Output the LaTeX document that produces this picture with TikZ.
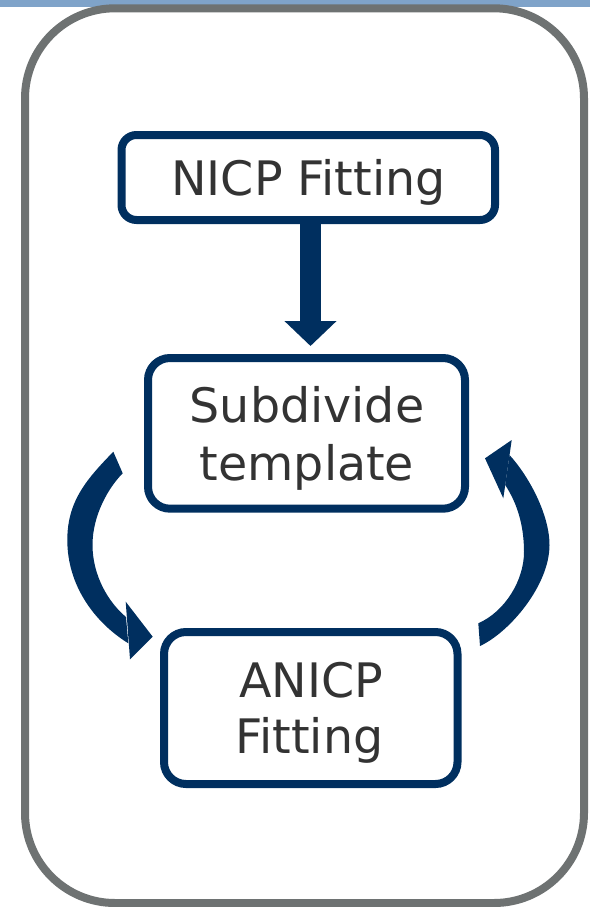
\documentclass[tikz,border=0pt]{standalone}
\usepackage{fontspec}
\setmainfont{DejaVu Sans}
\usetikzlibrary{arrows.meta,calc}
\definecolor{navy}{RGB}{0,47,95}
\definecolor{framegray}{RGB}{110,114,114}
\definecolor{bandblue}{RGB}{127,163,201}
\definecolor{labelgray}{RGB}{51,51,51}
\begin{document}
\begin{tikzpicture}[x=1pt,y=-1pt,
  stepbox/.style={draw=navy, line width=8pt, fill=white, inner sep=0pt,
    outer sep=0pt},
  steplabel/.style={inner sep=0pt, outer sep=0pt, anchor=base,
    text=labelgray, font=\fontsize{47.5}{57}\selectfont},
  flowarrow/.style={draw=navy, line width=20.7pt,
    -{Triangle[width=50.7pt, length=25pt]}},
  loopfill/.style={fill=navy}]
\useasboundingbox (0,0) rectangle (590,907);

% top band and outer frame
\fill[bandblue] (0,0) rectangle (590,7.3);
\draw[framegray, line width=8pt, rounded corners=90pt] (25,8.3) rectangle (584,903);

% process steps
\node[stepbox, rounded corners=15pt, minimum width=373.5pt, minimum height=85pt]
  (nicp) at (308.25,177.5) {};
\node[stepbox, rounded corners=22pt, minimum width=317pt, minimum height=150.7pt]
  (sub) at (306.5,433.35) {};
\node[stepbox, rounded corners=22pt, minimum width=293.5pt, minimum height=152pt]
  (anicp) at (310.75,708) {};

% step labels, placed on their baselines
\node[steplabel] (nicpA) at (308.5,195) {NICP Fitting};
\node[steplabel] (subA) at (307,422) {Subdivide};
\node[steplabel] (subB) at (307,480) {template};
\node[steplabel] (anicpA) at (311,697) {ANICP};
\node[steplabel] (anicpB) at (309.5,753) {Fitting};

% straight arrow from the first step to the subdivision step
\coordinate (ax) at (310.5,0);
\draw[flowarrow] (nicp.south -| ax) -- ($(sub.north -| ax)+(0,-12)$);

% left loop arrow: subdivide -> ANICP
\fill[loopfill] (113.3,451.7) .. controls (88,478) and (67.3,500) .. (67.3,540)
  .. controls (67.3,585) and (94,622) .. (128.3,643.3)
  -- (126,617)
  .. controls (108,602) and (92.5,575) .. (92.5,545)
  .. controls (92.5,515) and (108.7,487.3) .. (122.7,473.3) -- cycle;
\fill[loopfill] (125.7,601.7) -- (152.7,636.7) -- (130,659.3) -- cycle;

% right loop arrow: ANICP -> subdivide
\fill[loopfill] (509.5,455) .. controls (529.5,477) and (549.5,515) .. (549.5,545)
  .. controls (549.5,585) and (510,632) .. (480,646)
  -- (478.3,623.3)
  .. controls (505.3,611.3) and (524,580) .. (524,552)
  .. controls (524,525) and (517,503) .. (505.2,485) -- cycle;
\fill[loopfill] (485,458.3) -- (511.7,440) -- (503.3,498.3) -- cycle;
\end{tikzpicture}
\end{document}
